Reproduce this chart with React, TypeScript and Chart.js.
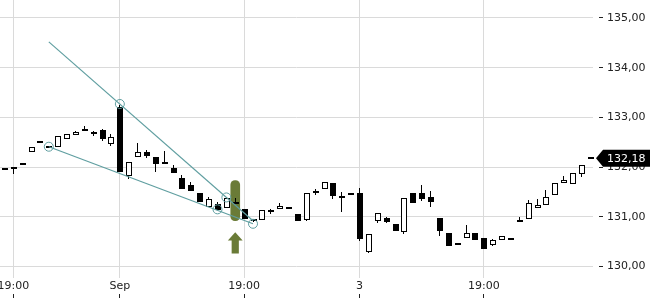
import React, { useEffect, useRef } from 'react';
import { Chart, registerables } from 'chart.js';

Chart.register(...registerables);

// ---- data ----
const opens = [
  131.98, 131.98, 132.07, 132.30, 132.52, 132.42, 132.40, 132.56, 132.64, 132.72,
  132.70, 132.75, 132.47, 133.20, 131.83, 132.20, 132.31, 132.20, 132.09, 131.98,
  131.78, 131.65, 131.48, 131.19, 131.26, 131.17, 131.28, 131.15, 130.95, 130.93,
  131.11, 131.15, 131.18, 131.05, 130.93, 131.50, 131.55, 131.68, 131.39, 131.46,
  131.47, 130.29, 130.91, 130.98, 130.86, 130.70, 131.48, 131.48, 131.40, 130.97,
  130.67, 130.48, 130.58, 130.67, 130.57, 130.43, 130.54, 130.57, 130.91, 130.95,
  131.17, 131.24, 131.43, 131.68, 131.66, 131.87, 132.18,
];
const highs = [
  131.98, 132.01, 132.08, 132.40, 132.52, 132.42, 132.62, 132.66, 132.73, 132.83,
  132.73, 132.76, 132.67, 133.25, 132.10, 132.48, 132.35, 132.21, 132.33, 132.05,
  131.85, 131.71, 131.48, 131.39, 131.29, 131.40, 131.38, 131.15, 130.95, 131.13,
  131.16, 131.27, 131.18, 131.05, 131.47, 131.55, 131.70, 131.68, 131.49, 131.46,
  131.58, 130.66, 131.08, 131.00, 130.86, 131.38, 131.48, 131.63, 131.51, 130.97,
  130.67, 130.48, 130.83, 130.67, 130.57, 130.56, 130.61, 130.57, 131.00, 131.33,
  131.36, 131.53, 131.68, 131.83, 131.88, 132.05, 132.18,
];
const lows = [
  131.94, 131.86, 132.04, 132.30, 132.50, 132.40, 132.40, 132.56, 132.64, 132.72,
  132.63, 132.52, 132.42, 131.90, 131.77, 132.20, 132.18, 131.91, 132.09, 131.88,
  131.56, 131.51, 131.29, 131.19, 131.13, 131.17, 131.28, 130.95, 130.90, 130.93,
  131.06, 131.15, 131.18, 130.91, 130.91, 131.43, 131.55, 131.35, 131.09, 131.46,
  130.51, 130.27, 130.88, 130.87, 130.71, 130.66, 131.28, 131.31, 131.19, 130.61,
  130.41, 130.44, 130.58, 130.53, 130.35, 130.41, 130.54, 130.54, 130.91, 130.95,
  131.17, 131.24, 131.43, 131.68, 131.66, 131.81, 132.18,
];
const closes = [
  131.94, 131.98, 132.04, 132.40, 132.50, 132.40, 132.62, 132.66, 132.71, 132.77,
  132.67, 132.57, 132.60, 131.91, 132.10, 132.30, 132.23, 132.07, 132.09, 131.88,
  131.56, 131.51, 131.29, 131.35, 131.13, 131.38, 131.28, 130.95, 130.91, 131.13,
  131.11, 131.21, 131.18, 130.91, 131.47, 131.48, 131.70, 131.41, 131.39, 131.46,
  130.55, 130.66, 131.08, 130.90, 130.71, 131.38, 131.28, 131.35, 131.30, 130.71,
  130.41, 130.44, 130.68, 130.53, 130.35, 130.53, 130.61, 130.54, 130.91, 131.28,
  131.24, 131.40, 131.68, 131.75, 131.88, 132.05, 132.18,
];

const xTickIdx = [1, 13, 27, 40, 54];
const xTickLabels = ['19:00', 'Sep', '19:00', '3', '19:00'];
const yTickValues = [130, 131, 132, 133, 134, 135];

const upperLine = [
  { x: 5, y: 134.52 },
  { x: 28, y: 130.92 },
];
const lowerLine = [
  { x: 5, y: 132.41 },
  { x: 28, y: 130.86 },
];
const pivotPoints = [
  { x: 5, y: 132.41 },
  { x: 13, y: 133.27 },
  { x: 24, y: 131.15 },
  { x: 25, y: 131.39 },
  { x: 28, y: 130.86 },
];
const highlightIdx = 26;
const highlightRange = [130.92, 131.73];

// ---- styles ----
const FONT = '"DejaVu Sans", sans-serif';
const TEXT_COLOR = '#222222';
const GRID_COLOR = '#dadada';
const TREND_COLOR = '#5f9ea0';
const HIGHLIGHT_COLOR = '#6a7b37';

const fmt = (v: number) => v.toFixed(2).replace('.', ',');

const decorPlugin = {
  id: 'decor',
  afterDatasetDraw(chart: any, args: any) {
    if (args.index !== 0) return;
    const ctx = chart.ctx as CanvasRenderingContext2D;
    const xs = chart.scales.x;
    const ys = chart.scales.y;
    ctx.save();

    // arrow under the highlight
    const ax = xs.getPixelForValue(highlightIdx);
    const yb = ys.getPixelForValue(highlightRange[0]);
    ctx.fillStyle = HIGHLIGHT_COLOR;
    ctx.beginPath();
    ctx.moveTo(ax, yb + 11.5);
    ctx.lineTo(ax + 7.4, yb + 19.8);
    ctx.lineTo(ax + 3.6, yb + 19.8);
    ctx.lineTo(ax + 3.6, yb + 32.8);
    ctx.lineTo(ax - 3.6, yb + 32.8);
    ctx.lineTo(ax - 3.6, yb + 19.8);
    ctx.lineTo(ax - 7.4, yb + 19.8);
    ctx.closePath();
    ctx.fill();

    // candles
    for (let i = 0; i < opens.length; i++) {
      const xc = Math.round(xs.getPixelForValue(i) - 0.5);
      const yO = ys.getPixelForValue(opens[i]);
      const yC = ys.getPixelForValue(closes[i]);
      const yH = Math.round(ys.getPixelForValue(highs[i]));
      const yL = Math.round(ys.getPixelForValue(lows[i]));
      ctx.fillStyle = '#000';
      if (yL > yH) ctx.fillRect(xc, yH, 1, yL - yH);
      const left = xc - 2;
      const top = Math.round(Math.min(yO, yC));
      const bot = Math.round(Math.max(yO, yC));
      const h = bot - top;
      if (closes[i] > opens[i] && h >= 3) {
        ctx.fillStyle = '#fff';
        ctx.fillRect(left, top, 6, h);
        ctx.strokeStyle = '#000';
        ctx.lineWidth = 1;
        ctx.strokeRect(left + 0.5, top + 0.5, 5, h - 1);
      } else {
        ctx.fillStyle = '#000';
        const hh = Math.max(h, 2);
        ctx.fillRect(left, h < 2 ? Math.round((yO + yC) / 2) - 1 : top, 6, hh);
      }
    }
    ctx.restore();
  },
  afterDraw(chart: any) {
    const ctx = chart.ctx as CanvasRenderingContext2D;
    const xs = chart.scales.x;
    const ys = chart.scales.y;
    const area = chart.chartArea;
    ctx.save();
    ctx.fillStyle = TEXT_COLOR;
    // y tick dashes
    for (const v of yTickValues) {
      const y = Math.round(ys.getPixelForValue(v) - 0.5);
      ctx.fillRect(area.right + 6, y, 4, 1);
    }
    // x tick marks below labels
    for (const v of xTickIdx) {
      const x = Math.round(xs.getPixelForValue(v) - 0.5);
      ctx.fillRect(x, 294, 1, 4);
    }
    // last price tag
    const last = closes[closes.length - 1];
    const yl = ys.getPixelForValue(last);
    const tipX = area.right + 3;
    ctx.fillStyle = '#000';
    ctx.beginPath();
    ctx.moveTo(tipX, yl);
    ctx.lineTo(tipX + 7, yl - 8.5);
    ctx.lineTo(chart.width, yl - 8.5);
    ctx.lineTo(chart.width, yl + 8.5);
    ctx.lineTo(tipX + 7, yl + 8.5);
    ctx.closePath();
    ctx.fill();
    ctx.fillStyle = '#fff';
    ctx.font = '11px ' + FONT;
    ctx.textAlign = 'left';
    ctx.textBaseline = 'middle';
    ctx.fillText(fmt(last), area.right + 14, yl + 0.5);
    ctx.restore();
  },
};

export default function App() {
  const canvasRef = useRef<HTMLCanvasElement | null>(null);

  useEffect(() => {
    document.body.style.margin = '0';
    const canvas = canvasRef.current;
    if (!canvas) return;
    const chart = new Chart(canvas, {
      type: 'line',
      data: {
        datasets: [
          {
            type: 'bar',
            data: [{ x: highlightIdx, y: highlightRange }] as any,
            backgroundColor: HIGHLIGHT_COLOR,
            borderWidth: 0,
            barThickness: 9,
            borderRadius: 4.5,
            borderSkipped: false,
            order: 4,
          } as any,
          {
            type: 'line',
            data: upperLine,
            borderColor: TREND_COLOR,
            borderWidth: 1.2,
            pointRadius: 0,
            fill: false,
            order: 3,
          },
          {
            type: 'line',
            data: lowerLine,
            borderColor: TREND_COLOR,
            borderWidth: 1.2,
            pointRadius: 0,
            fill: false,
            order: 2,
          },
          {
            type: 'line',
            data: pivotPoints,
            showLine: false,
            pointRadius: 4.5,
            pointBorderWidth: 1,
            pointBorderColor: TREND_COLOR,
            pointBackgroundColor: 'rgba(0,0,0,0)',
            order: 1,
          },
        ],
      },
      options: {
        animation: false,
        responsive: false,
        events: [],
        layout: { padding: 0, autoPadding: false },
        plugins: { legend: { display: false }, tooltip: { enabled: false } },
        scales: {
          x: {
            type: 'linear',
            min: -0.5,
            max: 66.3,
            offset: false,
            afterBuildTicks: (s: any) => {
              s.ticks = xTickIdx.map((v) => ({ value: v }));
            },
            afterFit: (s: any) => {
              s.height = 22;
              s.paddingLeft = 0;
              s.paddingRight = 0;
            },
            ticks: {
              autoSkip: false,
              maxRotation: 0,
              minRotation: 0,
              padding: 2,
              color: TEXT_COLOR,
              font: { family: FONT, size: 11 },
              callback: (_v: any, i: number) => xTickLabels[i],
            },
            grid: { color: GRID_COLOR, drawTicks: false, lineWidth: 1, offset: false },
            border: { display: false },
          },
          y: {
            type: 'linear',
            position: 'right',
            min: 129.769,
            max: 135.362,
            afterBuildTicks: (s: any) => {
              s.ticks = yTickValues.map((v) => ({ value: v }));
            },
            afterFit: (s: any) => {
              s.width = 57;
              s.paddingTop = 0;
              s.paddingBottom = 0;
            },
            ticks: {
              padding: 14,
              color: TEXT_COLOR,
              font: { family: FONT, size: 11 },
              callback: (v: any) => fmt(Number(v)),
            },
            grid: { color: GRID_COLOR, drawTicks: false, lineWidth: 1, offset: false },
            border: { display: false },
          },
        },
      } as any,
      plugins: [decorPlugin],
    });
    return () => chart.destroy();
  }, []);

  return (
    <div style={{ width: 650, height: 300, position: 'relative' }}>
      <canvas ref={canvasRef} width={650} height={300} style={{ display: 'block' }} />
    </div>
  );
}
